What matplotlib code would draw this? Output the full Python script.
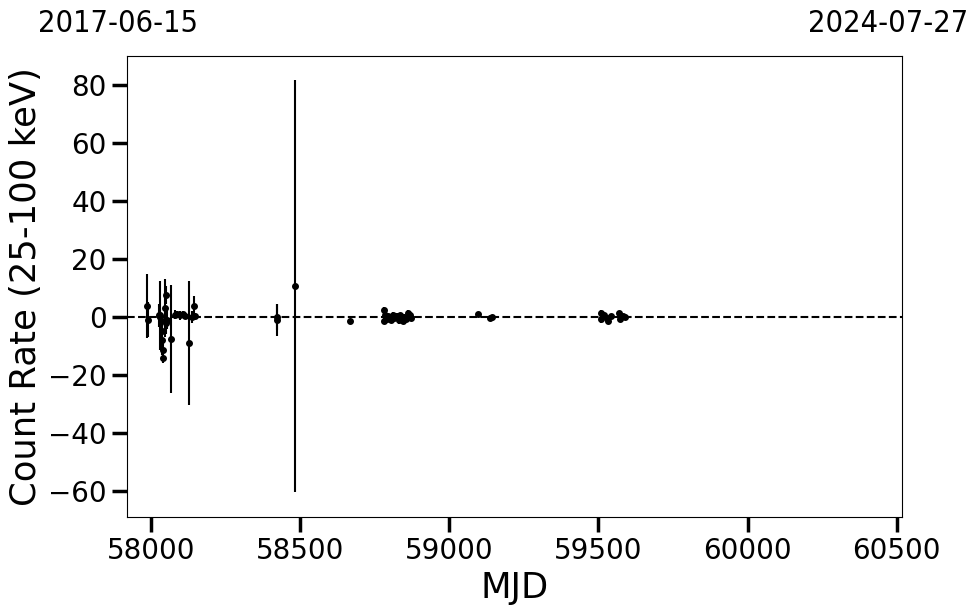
import matplotlib
matplotlib.use("Agg")
import matplotlib.pyplot as plt

# light curve points: MJD, count rate, error
mjd = [57987, 57988, 58026, 58028, 58030, 58033, 58036, 58038, 58039, 58041,
       58048, 58049, 58051, 58054, 58066, 58079, 58088, 58097, 58106, 58113,
       58127, 58136, 58143, 58147,
       58421, 58422, 58484,
       58668,
       58780, 58782, 58785, 58790, 58795, 58803, 58810, 58815, 58823, 58830,
       58835, 58843, 58847, 58855, 58863, 58867, 58873,
       59095, 59137, 59142,
       59508, 59510, 59518, 59528, 59533, 59543, 59568, 59573, 59583, 59590]
rate = [3.8, -1.0, 0.5, 0.0, 0.5, -1.5, -5.0, -8.0, -11.4, -14.0,
        3.1, 7.6, -2.0, -1.0, -7.6, 0.8, 1.0, 0.6, 1.0, 0.3,
        -9.0, 0.0, 3.8, 0.3,
        0.1, -1.0, 10.7,
        -1.4,
        2.5, -1.5, 0.5, -0.8, 0.3, -1.0, 0.8, -0.5, 0.2, -1.2,
        0.5, -1.5, 0.0, -0.8, 1.5, 0.5, -0.3,
        1.0, -0.3, 0.0,
        1.5, -0.8, 0.5, -0.3, -1.5, 0.3, 1.2, -0.8, 0.2, 0.0]
err = [10.9, 6.0, 4.0, 3.0, 12.0, 3.0, 4.0, 5.0, 3.0, 2.0,
       10.0, 3.0, 4.0, 3.0, 18.5, 1.5, 1.0, 1.5, 1.0, 1.0,
       21.3, 2.0, 3.4, 1.0,
       4.5, 5.5, 71.0,
       0.6,
       0.8, 1.0, 1.0, 1.0, 0.8, 1.0, 0.8, 1.0, 1.0, 1.2,
       0.8, 1.0, 1.0, 1.0, 1.0, 0.8, 0.8,
       0.8, 0.6, 0.6,
       1.0, 1.2, 1.0, 1.0, 1.0, 0.8, 1.0, 0.8, 0.8, 0.6]

start_label = "2017-06-15"
end_label = "2024-07-27"
mjd_start = 57919
mjd_end = 60518

fig = plt.figure(figsize=(9.8, 6.13), dpi=100)
ax = fig.add_axes([127/980, 1-517/613, (902-127)/980, (517-56)/613])

ax.errorbar(mjd, rate, yerr=err, fmt='o', color='black', ms=4,
            elinewidth=1.5, capsize=0)
ax.axhline(0, color='black', ls='--', lw=1.5)

ax.set_xlim(mjd_start, mjd_end)
ax.set_ylim(-69, 90)
ax.set_xticks([58000, 58500, 59000, 59500, 60000, 60500])
ax.set_yticks([-60, -40, -20, 0, 20, 40, 60, 80])
ax.tick_params(labelsize=20, length=11, width=2.5)
ax.set_xlabel("MJD", fontsize=25.5)
ax.set_ylabel("Count Rate (25-100 keV)", fontsize=25.5)

fig.text(38/980, 1-32/613, start_label, fontsize=22, fontstretch='condensed',
         ha='left', va='baseline')
fig.text(968/980, 1-32/613, end_label, fontsize=22, fontstretch='condensed',
         ha='right', va='baseline')

fig.savefig("out.png", dpi=100)
